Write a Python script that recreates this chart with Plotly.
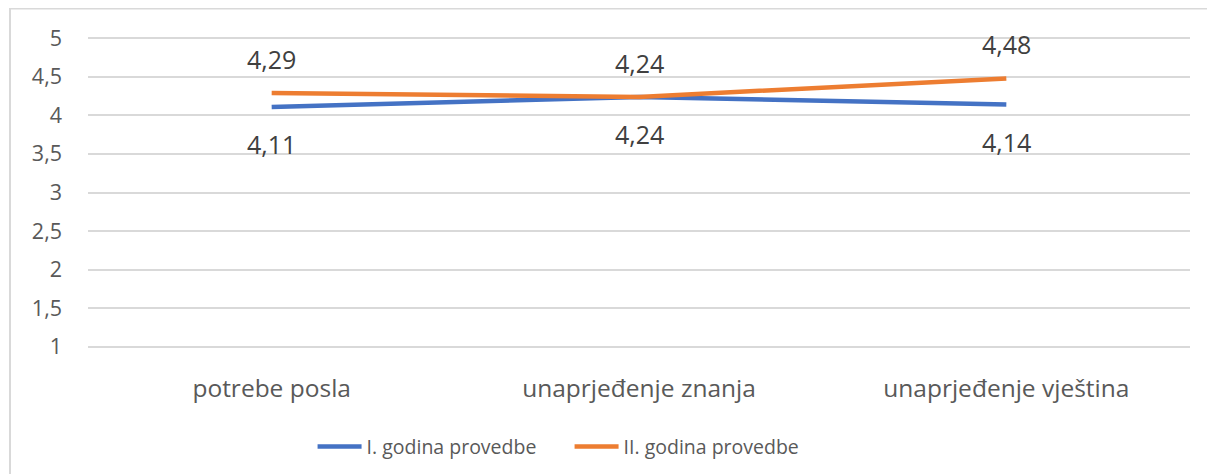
import plotly.graph_objects as go

categories = ["potrebe posla", "unaprjeđenje znanja", "unaprjeđenje vještina"]
series1_name = "I. godina provedbe"
series1 = [4.11, 4.24, 4.14]
series2_name = "II. godina provedbe"
series2 = [4.29, 4.24, 4.48]
y_ticks = [1, 1.5, 2, 2.5, 3, 3.5, 4, 4.5, 5]

BLUE = "#4472C4"
ORANGE = "#ED7D31"
TEXT = "#595959"
GRID = "#D9D9D9"
FONT = "Open Sans"

fig = go.Figure()
fig.add_trace(go.Scatter(x=categories, y=series1, mode="lines", name=series1_name,
                         line=dict(color=BLUE, width=4.5)))
fig.add_trace(go.Scatter(x=categories, y=series2, mode="lines", name=series2_name,
                         line=dict(color=ORANGE, width=4.5)))

def fmt(v):
    return f"{v:.2f}".replace(".", ",")

for c, v in zip(categories, series2):
    fig.add_annotation(x=c, y=v, text=fmt(v), showarrow=False, yshift=34,
                       font=dict(family=FONT, size=25, color="#404040"))
for c, v in zip(categories, series1):
    fig.add_annotation(x=c, y=v, text=fmt(v), showarrow=False, yshift=-37,
                       font=dict(family=FONT, size=25, color="#404040"))

# page body has an 8px margin, so the figure is offset by 8px
W, H = 1207, 466
L, R, T, B = 80, 25, 28, 125
pw, ph = W - L - R, H - T - B

fig.add_shape(type="rect", xref="paper", yref="paper",
              x0=(2 - L) / pw, x1=(W + 10 - L) / pw,
              y0=-(H + 10 - T - ph) / ph, y1=1 + (T - 0.5) / ph,
              line=dict(color=GRID, width=2), layer="below")

fig.update_layout(
    width=W, height=H,
    margin=dict(l=L, r=R, t=T, b=B, autoexpand=False),
    paper_bgcolor="white", plot_bgcolor="white",
    separators=", ",
    font=dict(family=FONT, size=20, color=TEXT),
    showlegend=True,
    legend=dict(orientation="h", x=0.437, xanchor="center", y=-0.25, yanchor="top",
                font=dict(family=FONT, size=19.5, color=TEXT), itemwidth=44,
                entrywidth=198, tracegroupgap=0),
)
fig.update_xaxes(type="category", range=[-0.5, 2.5], showgrid=False, showline=False,
                 zeroline=False, ticks="", ticklabelstandoff=22, automargin=False,
                 tickfont=dict(family=FONT, size=24.5, color=TEXT))
fig.update_yaxes(range=[0.97, 5.03], tickvals=y_ticks, tickformat=".1~f",
                 showgrid=True, gridcolor=GRID, gridwidth=2, zeroline=False,
                 showline=False, ticks="", ticklabelstandoff=25, automargin=False,
                 tickfont=dict(family=FONT, size=21.5, color=TEXT))

fig.write_html("out.html")
